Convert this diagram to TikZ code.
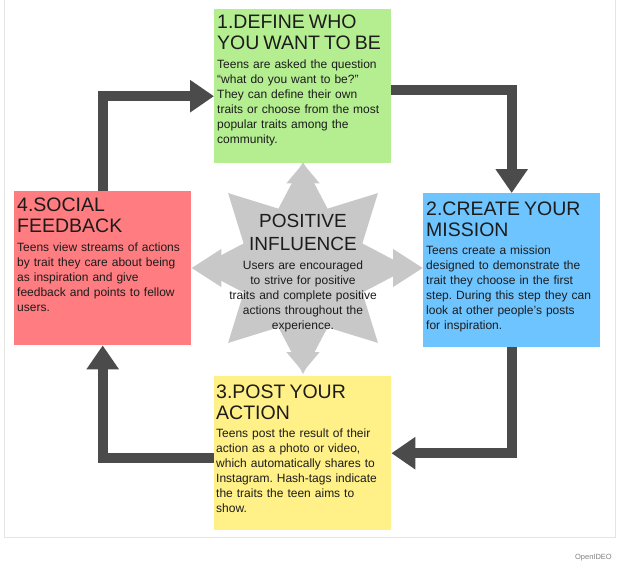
\documentclass[tikz,border=0pt]{standalone}
\usepackage{fontspec}
\setmainfont{Liberation Sans}
\usepackage{tikz}
\usetikzlibrary{arrows.meta,positioning,shapes.geometric}
\usepackage{xcolor}
\frenchspacing
\definecolor{grnfill}{RGB}{180,238,145}
\definecolor{redfill}{RGB}{255,124,128}
\definecolor{bluefill}{RGB}{110,196,255}
\definecolor{yelfill}{RGB}{255,240,135}
\definecolor{darkarr}{RGB}{75,75,75}
\definecolor{hubgray}{RGB}{200,200,200}
\definecolor{framegray}{RGB}{228,228,228}
\definecolor{inktxt}{RGB}{28,28,28}
\newcommand{\ttlfont}{\fontsize{19.5}{21}\selectfont}
\newcommand{\hubttlfont}{\fontsize{19}{23}\selectfont}
\tikzset{
  stepbox/.style ={minimum width=177pt, minimum height=154pt,
                   inner sep=0pt, anchor=north west},
  steptxt/.style ={anchor=north west, inner sep=0pt, text width=176pt,
                   align=left, text=inktxt,
                   font=\fontsize{12}{15}\selectfont},
  cyc/.style     ={draw=darkarr, line width=10pt,
                   -{Triangle[length=24pt,width=31pt]}},
  spokeV/.style  ={draw=hubgray, line width=12pt,
                   -{Triangle[length=20pt,width=32pt]}},
  spokeH/.style  ={draw=hubgray, line width=13pt,
                   -{Triangle[length=30pt,width=36pt]}},
  hub/.style     ={star, star points=8, star point ratio=1.65,
                   minimum size=212pt, inner sep=0pt, fill=hubgray},
  hubtxt/.style  ={anchor=north, inner sep=0pt, text width=170pt,
                   align=center, text=inktxt,
                   font=\fontsize{12}{15}\selectfont},
  srcnote/.style ={font=\fontsize{7.5}{8}\selectfont, text=black!50,
                   inner sep=0pt},
}
\begin{document}
\begin{tikzpicture}[x=1pt, y=-1pt]
  \useasboundingbox (0,0) rectangle (620,572);
  \draw[framegray, line width=1pt] (4,0) -- (4,537) -- (615,537) -- (615,0);

  % the four steps
  \node[stepbox, fill=grnfill]  (s1) at (214,9)   {};
  \node[stepbox, fill=bluefill] (s2) at (423,193) {};
  \node[stepbox, fill=yelfill]  (s3) at (214,376) {};
  \node[stepbox, fill=redfill]  (s4) at (14,191)  {};

  \node[steptxt] (s1t) at ([shift={(3pt,-6pt)}]s1.north west)
    {{\ttlfont 1.DEFINE WHO\\YOU WANT TO BE\par}\vskip4pt
     Teens are asked the question\\``what do you want to be?''\\
     They can define their own\\traits or choose from the most\\
     popular traits among the\\community.};
  \node[steptxt] (s2t) at ([shift={(3pt,-9pt)}]s2.north west)
    {{\ttlfont 2.CREATE YOUR\\MISSION\par}\vskip3pt
     Teens create a mission\\designed to demonstrate the\\
     trait they choose in the first\\step. During this step they can\\
     look at other people's posts\\for inspiration.};
  \node[steptxt] (s3t) at ([shift={(2pt,-9pt)}]s3.north west)
    {{\ttlfont 3.POST YOUR\\ACTION\par}\vskip3pt
     Teens post the result of their\\action as a photo or video,\\
     which automatically shares to\\Instagram. Hash-tags indicate\\
     the traits the teen aims to\\show.};
  \node[steptxt] (s4t) at ([shift={(3pt,-7pt)}]s4.north west)
    {{\ttlfont 4.SOCIAL\\FEEDBACK\par}\vskip4pt
     Teens view streams of actions\\by trait they care about being\\
     as inspiration and give\\feedback and points to fellow\\users.};

  % cycle
  \draw[cyc] (s4.north) |- ([yshift=-10pt]s1.west);
  \draw[cyc] ([yshift=-4pt]s1.east) -| (s2.north);
  \draw[cyc] (s2.south) |- (s3.east);
  \draw[cyc] ([yshift=-5pt]s3.west) -| (s4.south);

  % hub
  \coordinate (hubc) at (303,268);
  \draw[spokeV] (hubc) -- (hubc |- s1.south);
  \draw[spokeV] (hubc) -- ([yshift=4pt]hubc |- s3.north);
  \draw[spokeH] (hubc) -- (hubc -| s4.east);
  \draw[spokeH] (hubc) -- (hubc -| s2.west);
  \node[hub] (infl) at (hubc) {};
  \node[hubtxt] (inflt) at (303,214)
    {{\hubttlfont POSITIVE\\INFLUENCE\par}\vskip4pt
     Users are encouraged\\to strive for positive\\
     traits and complete positive\\actions throughout the\\experience.};

  \node[srcnote, anchor=base east] (src) at (612,559) {OpenIDEO};
\end{tikzpicture}
\end{document}
